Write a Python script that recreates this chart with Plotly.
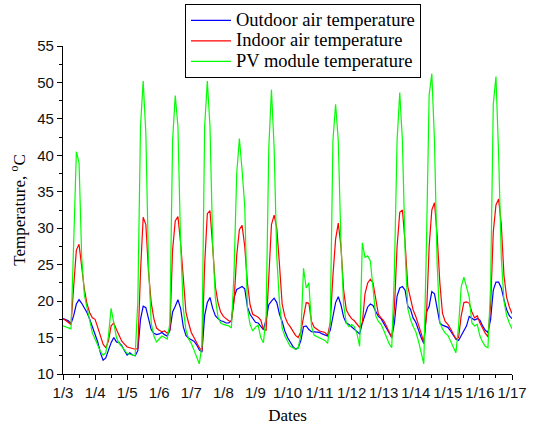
import plotly.graph_objects as go
import pandas as pd

# 2-hourly samples from 1/3 00:00 to 1/17 00:00
times = pd.date_range("2000-01-03 00:00", "2000-01-17 00:00", freq="2h")

outdoor = [
    17.6, 17.4, 17.3, 16.9, 18.0, 19.6, 20.2, 19.7, 19.1, 18.4, 17.5, 16.4,
    15.4, 14.4, 12.9, 11.9, 12.2, 13.2, 14.3, 15.0, 14.4, 14.3, 13.9, 13.2,
    12.6, 12.9, 12.6, 12.5, 13.2, 17.5, 19.3, 19.1, 17.5, 16.1, 15.6, 15.4,
    15.5, 15.7, 15.4, 15.2, 16.0, 18.5, 19.3, 20.2, 19.0, 16.5, 15.3, 14.9,
    14.7, 14.5, 14.0, 13.3, 13.0, 18.0, 19.8, 20.5, 19.0, 18.0, 17.6, 17.3,
    17.2, 17.0, 17.0, 17.3, 20.5, 21.6, 21.8, 22.0, 21.7, 19.2, 18.2, 17.6,
    17.1, 17.0, 16.6, 16.1, 17.5, 19.5, 20.0, 20.4, 19.8, 18.2, 17.2, 15.9,
    15.0, 14.4, 13.8, 13.4, 13.6, 14.6, 16.5, 16.6, 16.1, 15.8, 15.8, 15.7,
    15.7, 15.5, 15.4, 15.2, 16.0, 18.0, 19.8, 20.6, 19.5, 17.8, 17.0, 16.8,
    16.5, 16.2, 15.8, 15.5, 17.0, 18.0, 19.2, 19.6, 19.4, 18.6, 17.9, 17.6,
    17.0, 16.3, 15.6, 15.0, 17.0, 20.7, 21.8, 22.0, 21.5, 19.3, 18.9, 17.7,
    17.1, 16.0, 15.0, 14.2, 18.5, 19.3, 21.3, 21.0, 18.9, 17.0, 16.7, 16.6,
    16.4, 15.9, 15.3, 14.8, 14.6, 15.3, 16.1, 16.6, 17.9, 17.6, 17.4, 17.6,
    17.4, 16.6, 16.0, 15.7, 17.5, 21.5, 22.6, 22.6, 21.8, 20.2, 18.8, 18.0,
    17.6,
]

indoor = [
    17.6, 17.3, 17.1, 16.8, 22.0, 27.0, 27.8, 24.8, 21.6, 19.6, 18.4, 17.7,
    17.5, 16.4, 15.2, 14.1, 13.6, 14.5, 16.6, 17.0, 16.1, 15.2, 14.5, 14.1,
    13.7, 13.6, 13.5, 13.4, 13.5, 24.0, 31.5, 30.5, 24.0, 19.8, 17.6, 16.3,
    16.0, 15.8, 15.9, 15.6, 16.0, 27.0, 31.0, 31.6, 28.0, 23.5, 18.5, 17.0,
    15.7, 15.0, 14.2, 13.6, 13.2, 25.0, 32.0, 32.4, 27.5, 22.0, 19.8, 18.5,
    17.9, 17.6, 17.3, 17.2, 20.0, 26.3, 29.8, 30.4, 27.5, 22.5, 19.5, 18.2,
    18.0, 17.8, 17.4, 16.1, 16.0, 24.0, 30.5, 31.8, 30.0, 25.0, 19.6, 17.9,
    17.0, 16.5, 15.9, 15.3, 15.0, 15.8, 17.8, 19.8, 19.7, 17.2, 16.4, 16.1,
    15.9, 15.8, 15.7, 15.3, 17.0, 23.5, 28.5, 30.7, 27.5, 21.5, 18.8, 18.1,
    17.6, 17.3, 16.9, 16.4, 17.0, 21.0, 22.5, 23.0, 22.5, 20.0, 18.2, 17.7,
    17.3, 16.6, 15.7, 15.0, 19.0, 27.5, 32.2, 32.5, 28.0, 22.0, 20.4, 18.8,
    17.9, 16.9, 15.6, 14.3, 18.0, 27.5, 32.5, 33.5, 29.0, 22.5, 18.3, 17.2,
    16.8, 16.2, 15.5, 14.8, 15.0, 18.0, 19.8, 19.9, 19.7, 18.5, 17.7, 18.0,
    17.0, 16.2, 15.6, 15.1, 19.5, 29.5, 33.2, 34.0, 30.5, 23.5, 20.5, 19.2,
    18.3,
]

pv_module = [
    16.6, 16.5, 16.4, 16.2, 28.0, 40.5, 39.0, 26.0, 20.8, 18.9, 17.0, 15.6,
    14.8, 13.9, 13.1, 12.6, 12.9, 15.2, 19.0, 17.0, 15.0, 14.2, 13.8, 13.3,
    12.8, 12.7, 12.6, 12.5, 20.0, 44.0, 50.2, 43.0, 25.0, 17.0, 15.2, 14.4,
    14.8, 15.2, 15.0, 14.8, 17.0, 42.0, 48.2, 44.0, 28.0, 19.0, 16.0, 14.8,
    14.2, 13.2, 12.3, 11.4, 14.0, 44.0, 50.2, 44.0, 28.0, 20.5, 17.8, 17.0,
    16.8, 16.7, 16.6, 16.3, 24.0, 37.5, 42.3, 38.0, 33.0, 19.0, 16.8, 15.9,
    16.4, 16.7, 15.0, 14.3, 18.0, 41.0, 49.0, 41.0, 26.0, 19.8, 16.3, 15.2,
    14.4, 13.8, 13.6, 13.4, 13.5, 15.5, 24.5, 21.8, 22.5, 16.5, 15.3, 15.1,
    15.0, 14.8, 14.6, 14.2, 17.0, 42.0, 47.0, 42.0, 28.0, 19.5, 17.0, 16.5,
    16.8, 16.5, 15.5, 13.8, 28.0, 26.0, 26.2, 25.5, 22.0, 18.0, 17.2, 16.8,
    16.0, 15.0, 14.2, 13.6, 24.0, 42.0, 48.6, 42.0, 27.0, 19.0, 17.5, 16.5,
    15.8, 14.5, 13.0, 11.4, 28.0, 48.3, 51.2, 42.0, 25.0, 17.0, 16.2, 15.6,
    15.3, 14.5, 13.5, 12.9, 16.5, 22.0, 23.3, 22.0, 20.5, 17.0, 16.6, 16.8,
    15.2, 14.4, 13.8, 13.6, 22.0, 47.0, 50.8, 40.0, 26.0, 20.0, 18.0, 17.0,
    16.2,
]

tick_dates = pd.date_range("2000-01-03", "2000-01-17", freq="D")
tick_labels = ["1/3", "1/4", "1/5", "1/6", "1/7", "1/8", "1/9", "1/10",
               "1/11", "1/12", "1/13", "1/14", "1/15", "1/16", "1/17"]

series_names = ["Outdoor air temperature", "Indoor air temperature",
                "PV module temperature"]
series_colors = ["#0000FF", "#FF0000", "#00FF00"]

fig = go.Figure()
for name, vals, col in zip(series_names, [outdoor, indoor, pv_module], series_colors):
    fig.add_trace(go.Scatter(
        x=times, y=vals, mode="lines",
        name="<span style='font-size:18.5px'>" + name + "</span>",
        line=dict(color=col, width=1.2)))

serif = "Liberation Serif, Times New Roman, serif"
sans = "Liberation Sans, Arial, sans-serif"

fig.update_layout(
    width=537, height=429,
    margin=dict(l=63, r=25, t=46, b=55, autoexpand=False),
    paper_bgcolor="white", plot_bgcolor="white",
    showlegend=True,
    legend=dict(x=0.2717, y=1.128, xanchor="left", yanchor="top",
                bgcolor="white", bordercolor="black", borderwidth=1,
                font=dict(family=serif, size=13.5, color="black"),
                itemwidth=40, tracegroupgap=0),
    xaxis=dict(
        range=[times[0], times[-1]],
        tickmode="array", tickvals=tick_dates, ticktext=tick_labels,
        ticks="outside", ticklen=5, tickwidth=1, tickcolor="black",
        showline=True, linecolor="black", linewidth=1.3,
        showgrid=False, zeroline=False,
        tickfont=dict(family=sans, size=15, color="#111"),
        minor=dict(ticks="outside", ticklen=3, tickcolor="black",
                   dtick=43200000, showgrid=False),
        title=dict(text="Dates", font=dict(family=serif, size=17, color="black"),
                   standoff=8),
    ),
    yaxis=dict(
        range=[10, 55], dtick=5, tick0=10,
        ticks="outside", ticklen=5, tickwidth=1, tickcolor="black",
        showline=True, linecolor="black", linewidth=1.3,
        showgrid=False, zeroline=False,
        tickfont=dict(family=sans, size=15, color="#111"),
        minor=dict(ticks="outside", ticklen=3, tickcolor="black",
                   dtick=2.5, showgrid=False),
        title=dict(text="Temperature, <sup>o</sup>C",
                   font=dict(family=serif, size=17, color="black"), standoff=7),
    ),
)

fig.write_html("out.html",
               config={"displayModeBar": False},
               post_script="document.body.style.margin='0px';"
                           "document.body.style.overflow='hidden';")
